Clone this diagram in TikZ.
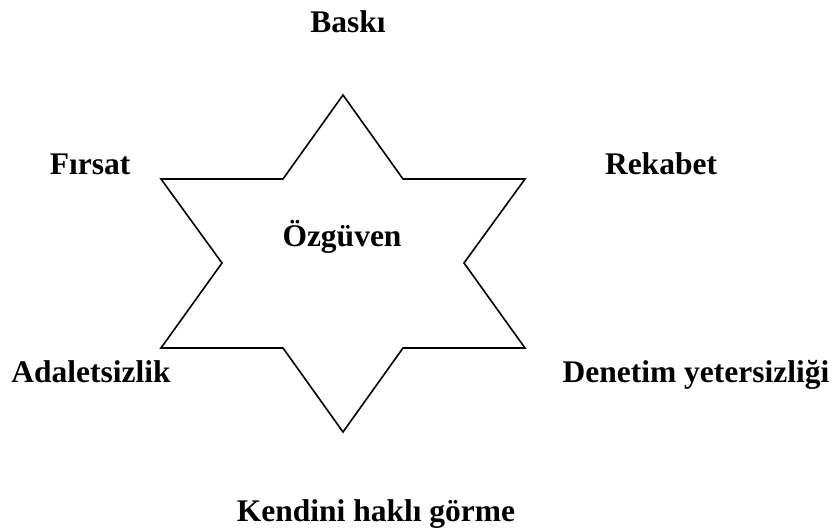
\documentclass[tikz,border=0pt]{standalone}
\usepackage{fontspec}
\setmainfont{Liberation Serif}
\usepackage{tikz}
\usetikzlibrary{calc}

\begin{document}
\begin{tikzpicture}[
  x=1pt, y=-1pt,
  starline/.style={
    draw=black,
    line width=1.6pt,
    line join=miter
  },
  factor/.style={
    font=\fontsize{31.5}{36}\selectfont\bfseries,
    inner sep=0pt,
    anchor=base
  }
]
  \useasboundingbox (0,0) rectangle (835,532);

  % Six-pointed star
  \draw[starline] (343,95) -- (403,179) -- (525,179) -- (464,263) -- (525,348)
    -- (403,348) -- (343,432) -- (283,348) -- (161,348) -- (222,263)
    -- (161,179) -- (283,179) -- cycle;

  % Centre
  \node[factor] (ozguven) at (342,246.5) {Özgüven};

  % Factors around the star
  \node[factor] (baski) at (348,33) {Baskı};
  \node[factor] (firsat) at (90,175) {Fırsat};
  \node[factor] (rekabet) at (661,175) {Rekabet};
  \node[factor] (adalet) at (91,382.5) {Adaletsizlik};
  \node[factor] (denetim) at (696,382.5) {Denetim yetersizliği};
  \node[factor] (kendini) at (376,521.5) {Kendini haklı görme};

\end{tikzpicture}
\end{document}
